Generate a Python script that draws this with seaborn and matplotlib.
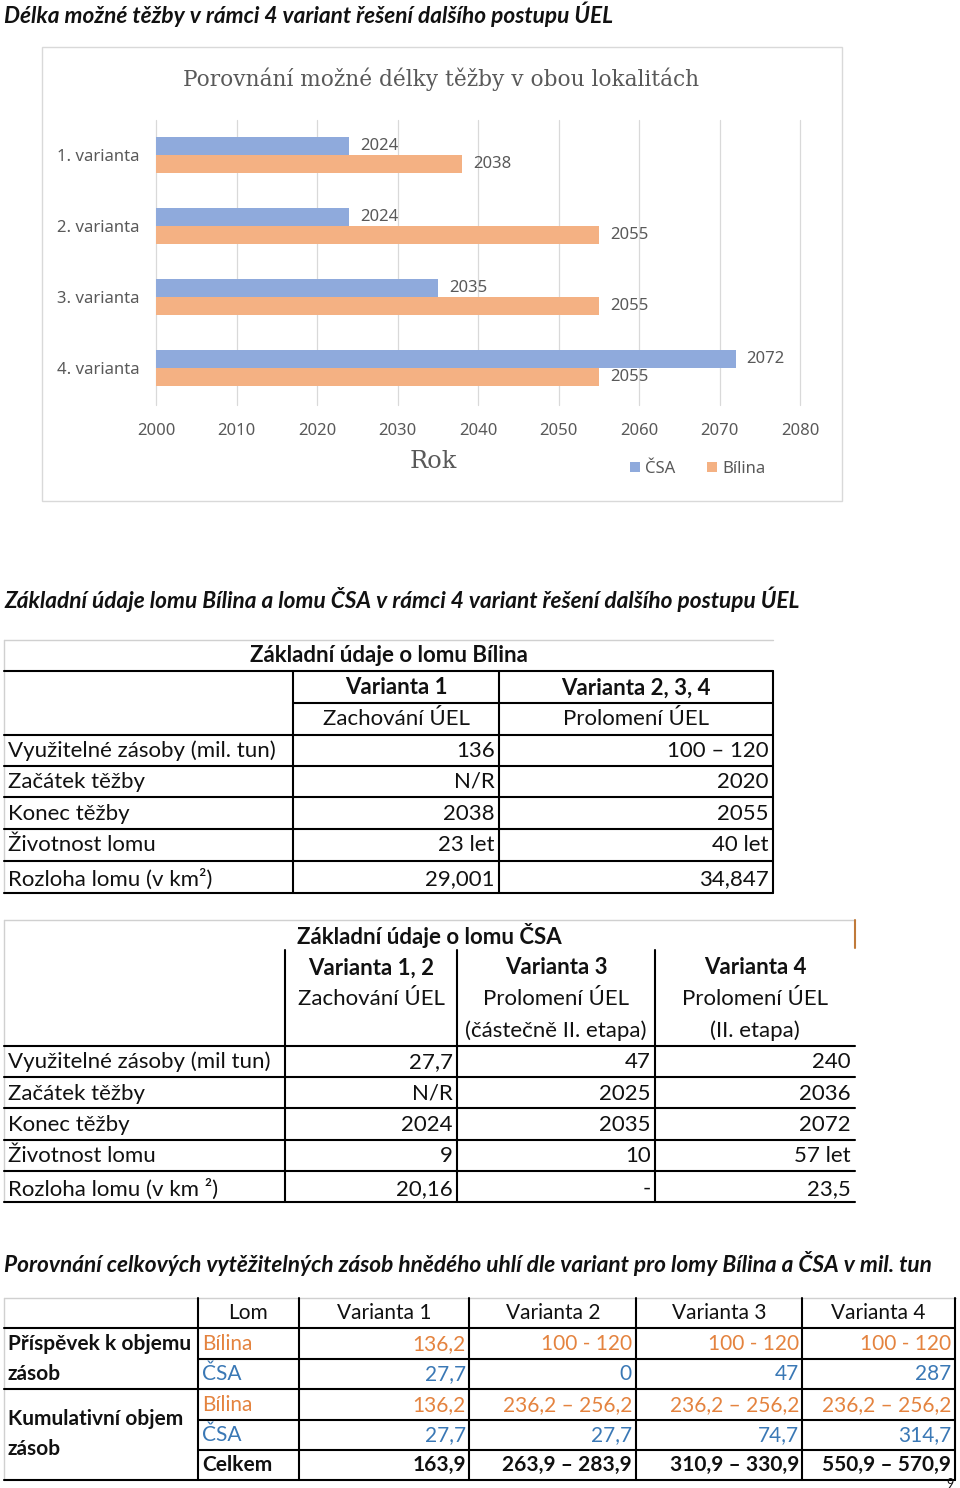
import matplotlib
matplotlib.use('Agg')

import matplotlib.pyplot as plt
import seaborn as sns
import pandas as pd
from matplotlib.lines import Line2D
from matplotlib.patches import Rectangle

W, H = 960, 1488

# --- graf: konec tezby podle variant
varianty = ['1. varianta', '2. varianta', '3. varianta', '4. varianta']
konec_csa = [2024, 2024, 2035, 2072]
konec_bilina = [2038, 2055, 2055, 2055]
lomy = ['ČSA', 'Bílina']
barvy = {'ČSA': '#8FAADC', 'Bílina': '#F4B183'}
roky = list(range(2000, 2081, 10))

# --- tabulka Bilina
bil_hlavicka = ['Varianta 1', 'Varianta 2, 3, 4']
bil_podhlavicka = ['Zachování ÚEL', 'Prolomení ÚEL']
bil_radky = ['Využitelné zásoby (mil. tun)', 'Začátek těžby', 'Konec těžby',
             'Životnost lomu', 'Rozloha lomu (v km²)']
bil_v1 = ['136', 'N/R', '2038', '23 let', '29,001']
bil_v234 = ['100 – 120', '2020', '2055', '40 let', '34,847']

# --- tabulka CSA
csa_hlavicka = ['Varianta 1, 2', 'Varianta 3', 'Varianta 4']
csa_podhlavicka = [['Zachování ÚEL'],
                   ['Prolomení ÚEL', '(částečně II. etapa)'],
                   ['Prolomení ÚEL', '(II. etapa)']]
csa_radky = ['Využitelné zásoby (mil tun)', 'Začátek těžby', 'Konec těžby',
             'Životnost lomu', 'Rozloha lomu (v km ²)']
csa_v12 = ['27,7', 'N/R', '2024', '9', '20,16']
csa_v3 = ['47', '2025', '2035', '10', '-']
csa_v4 = ['240', '2036', '2072', '57 let', '23,5']

# --- tabulka zasob
zas_hlavicka = ['Lom', 'Varianta 1', 'Varianta 2', 'Varianta 3', 'Varianta 4']
zas_skupiny = [['Příspěvek k objemu', 'zásob'], ['Kumulativní objem', 'zásob']]
zas_lom = ['Bílina', 'ČSA', 'Bílina', 'ČSA', 'Celkem']
zas_var1 = ['136,2', '27,7', '136,2', '27,7', '163,9']
zas_var2 = ['100 - 120', '0', '236,2 – 256,2', '27,7', '263,9 – 283,9']
zas_var3 = ['100 - 120', '47', '236,2 – 256,2', '74,7', '310,9 – 330,9']
zas_var4 = ['100 - 120', '287', '236,2 – 256,2', '314,7', '550,9 – 570,9']

sns.set_style('white')
plt.rcParams['font.family'] = ['Lato', 'DejaVu Sans']

fig = plt.figure(figsize=(W / 100, H / 100), dpi=100)
fig.patch.set_facecolor('white')

SANS = ['Noto Sans', 'DejaVu Sans']
SERIF = ['DejaVu Serif']
TXT = '#111111'
GRAY = '#595959'
FS = 16      # tabulky 1 a 2
FS3 = 15     # tabulka 3


def fx(x):
    return x / W


def fy(y):
    return 1 - y / H


def txt(x, y, s, ha='left', **kw):
    kw.setdefault('fontsize', FS)
    kw.setdefault('color', TXT)
    fig.text(fx(x), fy(y), s, ha=ha, va='center', **kw)


def hline(y, x0, x1, lw=1.5, color='black'):
    fig.add_artist(Line2D([fx(x0), fx(x1)], [fy(y), fy(y)], lw=lw, color=color,
                          transform=fig.transFigure))


def vline(x, y0, y1, lw=1.5, color='black'):
    fig.add_artist(Line2D([fx(x), fx(x)], [fy(y0), fy(y1)], lw=lw, color=color,
                          transform=fig.transFigure))


# nadpisy
nadpis = dict(fontsize=16.3, fontweight='bold', fontstyle='italic')
txt(4, 14, 'Délka možné těžby v rámci 4 variant řešení dalšího postupu ÚEL', **nadpis)
txt(4, 599, 'Základní údaje lomu Bílina a lomu ČSA v rámci 4 variant řešení dalšího postupu ÚEL', **nadpis)
txt(4, 1264, 'Porovnání celkových vytěžitelných zásob hnědého uhlí dle variant pro lomy Bílina a ČSA v mil. tun', **nadpis)

# ---------------- graf
fig.add_artist(Rectangle((fx(42), fy(501)), fx(842) - fx(42), fy(47) - fy(501),
                         fill=False, edgecolor='#D9D9D9', lw=1, transform=fig.transFigure))

df = pd.DataFrame({'varianta': varianty * 2,
                   'lom': ['ČSA'] * 4 + ['Bílina'] * 4,
                   'rok': konec_csa + konec_bilina})

ax = fig.add_axes([fx(156), fy(405), (800 - 156) / W, (405 - 120) / H])
sns.barplot(data=df, y='varianta', x='rok', hue='lom', hue_order=lomy, palette=barvy,
            orient='h', width=0.5, saturation=1, errorbar=None, linewidth=0, ax=ax)
ax.set_xlim(2000, 2080)
ax.set_ylim(3.52, -0.49)
ax.set_xticks(roky)
ax.grid(axis='x', color='#D9D9D9', lw=0.9)
ax.grid(axis='y', visible=False)
for gl in ax.get_xgridlines():
    gl.set_clip_on(False)
ax.set_axisbelow(True)
sns.despine(ax=ax, left=True, bottom=True)
ax.set_xlabel('')
ax.set_ylabel('')
ax.tick_params(length=0, colors=GRAY, labelsize=12)
ax.tick_params(axis='y', pad=12)
ax.tick_params(axis='x', pad=13)
for lab in ax.get_xticklabels() + ax.get_yticklabels():
    lab.set_family(SANS)
for c in ax.containers:
    ax.bar_label(c, fmt='%d', padding=8, color=GRAY, fontsize=12, family=SANS)

handles, labels = ax.get_legend_handles_labels()
if ax.get_legend() is not None:
    ax.get_legend().remove()
fig.legend(handles, labels, loc='center', bbox_to_anchor=(fx(698), fy(469)), ncol=2,
           frameon=False, handlelength=0.6, handleheight=0.6, handletextpad=0.3,
           columnspacing=1.9, prop={'family': SANS, 'size': 12}, labelcolor=GRAY)

txt(441, 79, 'Porovnání možné délky těžby v obou lokalitách', ha='center',
    family=SERIF, fontsize=15.6, color=GRAY)
txt(433, 462, 'Rok', ha='center', family=SERIF, fontsize=17.4, color=GRAY)

# ---------------- tabulka Bilina
LG = '#D0D0D0'
hline(640, 4, 773, lw=1, color=LG)
vline(4, 640, 893, lw=1, color=LG)
txt(389, 655, 'Základní údaje o lomu Bílina', ha='center', fontweight='bold')
hline(671, 4, 773)
hline(703, 293, 773)
for y in [735, 766, 797, 829, 861, 893]:
    hline(y, 4, 773)
for x in [293, 499, 773]:
    vline(x, 671, 893)
for xc, s, p in zip([396, 636], bil_hlavicka, bil_podhlavicka):
    txt(xc, 688, s, ha='center', fontweight='bold')
    txt(xc, 719, p, ha='center')
for i, (lab, a, b) in enumerate(zip(bil_radky, bil_v1, bil_v234)):
    y = [751, 782, 814, 845, 879][i]
    txt(8, y, lab)
    txt(495, y, a, ha='right')
    txt(769, y, b, ha='right')

# ---------------- tabulka CSA
hline(920, 4, 855, lw=1, color=LG)
vline(4, 920, 1202, lw=1, color=LG)
vline(855, 920, 948, lw=1.5, color='#C07A3A')
txt(429, 935, 'Základní údaje o lomu ČSA', ha='center', fontweight='bold')
for x in [285, 457, 655]:
    vline(x, 950, 1202)
for y in [1046, 1077, 1108, 1140, 1171, 1202]:
    hline(y, 4, 855)
for xc, s, pod in zip([371, 556, 755], csa_hlavicka, csa_podhlavicka):
    txt(xc, 968, s, ha='center', fontweight='bold')
    for k, p in enumerate(pod):
        txt(xc, 999 + 32 * k, p, ha='center')
for i, lab in enumerate(csa_radky):
    y = [1062, 1094, 1125, 1156, 1189][i]
    txt(8, y, lab)
    txt(453, y, csa_v12[i], ha='right')
    txt(651, y, csa_v3[i], ha='right')
    txt(851, y, csa_v4[i], ha='right')

# ---------------- tabulka zasob
hline(1298, 4, 956, lw=1, color=LG)
vline(4, 1298, 1480, lw=1, color=LG)
for x in [198, 299, 469, 636, 802, 955]:
    vline(x, 1298, 1480)
for y in [1328, 1389, 1480]:
    hline(y, 4, 955)
for y in [1359, 1420, 1450]:
    hline(y, 198, 955)
for xc, s in zip([248, 384, 553, 719, 878], zas_hlavicka):
    txt(xc, 1313, s, ha='center', fontsize=FS3)
for ys, sk in zip([(1344, 1374), (1419, 1449)], zas_skupiny):
    for y, s in zip(ys, sk):
        txt(8, y, s, fontweight='bold', fontsize=FS3)
barva_lomu = {'Bílina': '#E4833F', 'ČSA': '#3A78B5', 'Celkem': TXT}
for i, lom in enumerate(zas_lom):
    y = [1344, 1374, 1405, 1435, 1465][i]
    kw = dict(color=barva_lomu[lom], fontsize=FS3)
    if lom == 'Celkem':
        kw['fontweight'] = 'bold'
    txt(202, y, lom, **kw)
    for xr, col in zip([466, 632, 799, 951], [zas_var1, zas_var2, zas_var3, zas_var4]):
        txt(xr, y, col[i], ha='right', **kw)

txt(950, 1484, '9', ha='center', fontsize=9)

fig.savefig('out.png', dpi=100, facecolor='white')
